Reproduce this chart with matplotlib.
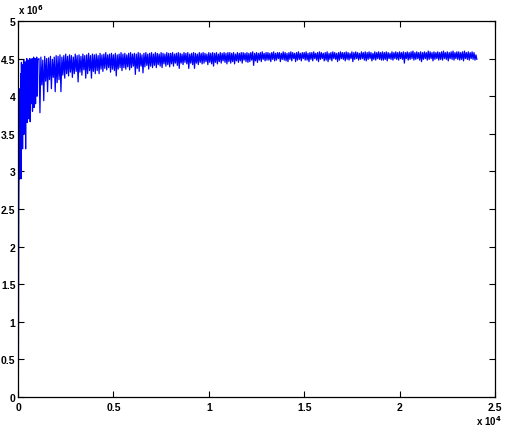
#!/usr/bin/env python3
"""Recreate the MATLAB-style convergence trace (blue) with black reference step."""
import matplotlib
matplotlib.use("Agg")
import matplotlib.pyplot as plt
from matplotlib.ticker import FuncFormatter, MultipleLocator
import numpy as np

# --- data (y in units of 1e6) ---
# first 1000 iterations: sampled every 20
early_step = 20
early_y = [
    0.08, 0.30, 2.46, 3.35, 2.90, 4.10, 3.20, 4.30, 2.90, 4.45,
    3.60, 4.40, 3.30, 4.42, 3.70, 4.48, 3.50, 4.45, 3.90, 4.35,
    3.30, 4.46, 3.80, 4.50, 3.65, 4.42, 3.90, 4.48, 3.70, 4.46,
    4.00, 4.50, 3.66, 4.44, 3.90, 4.47, 4.05, 4.50, 3.80, 4.45,
    4.10, 4.52, 3.85, 4.48, 4.05, 4.50, 3.90, 4.46, 4.10, 4.52,
    4.00, 4.48,
]
# after that: per 100-iteration column, top and bottom of the trace
late_start = 1100
late_step = 100
late_top = [
    4.50, 4.52, 4.48, 4.53, 4.50, 4.51, 4.53, 4.49, 4.52, 4.54,
    4.53, 4.55, 4.52, 4.54, 4.56, 4.53, 4.55, 4.54, 4.52, 4.56,
    4.54, 4.55, 4.53, 4.56, 4.54, 4.55, 4.57, 4.54, 4.56, 4.55,
    4.56, 4.54, 4.57, 4.55, 4.56, 4.58, 4.55, 4.56, 4.57, 4.55,
    4.57, 4.55, 4.56, 4.58, 4.56, 4.57, 4.55, 4.57, 4.58, 4.56,
    4.57, 4.56, 4.58, 4.57, 4.55, 4.57, 4.58, 4.56, 4.57, 4.58,
    4.56, 4.58, 4.57, 4.56, 4.58, 4.57, 4.56, 4.58, 4.57, 4.57,
    4.58, 4.56, 4.57, 4.58, 4.57, 4.56, 4.58, 4.57, 4.58, 4.56,
    4.57, 4.58, 4.57, 4.56, 4.58, 4.57, 4.58, 4.57, 4.56, 4.58,
    4.57, 4.58, 4.57, 4.58, 4.56, 4.58, 4.57, 4.58, 4.57, 4.58,
    4.58, 4.57, 4.58, 4.56, 4.58, 4.57, 4.58, 4.58, 4.57, 4.58,
    4.57, 4.58, 4.59, 4.57, 4.58, 4.57, 4.58, 4.59, 4.57, 4.58,
    4.58, 4.57, 4.58, 4.59, 4.57, 4.58, 4.58, 4.57, 4.59, 4.58,
    4.57, 4.58, 4.59, 4.58, 4.57, 4.58, 4.59, 4.57, 4.58, 4.58,
    4.59, 4.57, 4.58, 4.58, 4.59, 4.57, 4.58, 4.59, 4.58, 4.57,
    4.58, 4.59, 4.57, 4.58, 4.59, 4.58, 4.57, 4.58, 4.59, 4.58,
    4.58, 4.59, 4.58, 4.57, 4.59, 4.58, 4.59, 4.58, 4.57, 4.59,
    4.58, 4.59, 4.58, 4.59, 4.58, 4.57, 4.59, 4.58, 4.59, 4.58,
    4.59, 4.58, 4.59, 4.58, 4.57, 4.59, 4.58, 4.59, 4.58, 4.59,
    4.58, 4.59, 4.58, 4.59, 4.58, 4.59, 4.60, 4.58, 4.59, 4.58,
    4.59, 4.58, 4.59, 4.58, 4.60, 4.59, 4.58, 4.59, 4.58, 4.59,
    4.58, 4.59, 4.60, 4.58, 4.59, 4.58, 4.59, 4.60, 4.58, 4.59,
    4.59, 4.58, 4.59, 4.60, 4.58, 4.59, 4.58, 4.59, 4.58, 4.55,
]
late_low = [
    3.78, 4.15, 3.94, 4.20, 4.06, 4.22, 4.10, 4.25, 4.06, 4.18,
    4.22, 4.06, 4.28, 4.24, 4.30, 4.27, 4.32, 4.25, 4.30, 4.33,
    4.19, 4.32, 4.28, 4.35, 4.24, 4.30, 4.34, 4.24, 4.33, 4.30,
    4.34, 4.30, 4.36, 4.33, 4.37, 4.35, 4.38, 4.32, 4.36, 4.34,
    4.27, 4.36, 4.38, 4.34, 4.38, 4.36, 4.39, 4.35, 4.38, 4.40,
    4.29, 4.37, 4.33, 4.40, 4.31, 4.39, 4.41, 4.36, 4.40, 4.38,
    4.41, 4.38, 4.42, 4.40, 4.38, 4.43, 4.40, 4.42, 4.39, 4.43,
    4.40, 4.44, 4.41, 4.37, 4.44, 4.42, 4.45, 4.43, 4.37, 4.44,
    4.42, 4.37, 4.44, 4.42, 4.45, 4.43, 4.44, 4.46, 4.42, 4.45,
    4.43, 4.40, 4.45, 4.43, 4.46, 4.44, 4.47, 4.45, 4.43, 4.46,
    4.44, 4.46, 4.43, 4.47, 4.45, 4.47, 4.44, 4.48, 4.46, 4.45,
    4.46, 4.48, 4.41, 4.47, 4.45, 4.48, 4.46, 4.49, 4.47, 4.48,
    4.48, 4.46, 4.49, 4.47, 4.48, 4.50, 4.46, 4.49, 4.48, 4.47,
    4.46, 4.49, 4.47, 4.50, 4.46, 4.48, 4.49, 4.47, 4.50, 4.48,
    4.48, 4.46, 4.49, 4.47, 4.50, 4.48, 4.46, 4.49, 4.50, 4.47,
    4.48, 4.46, 4.49, 4.47, 4.50, 4.49, 4.46, 4.48, 4.50, 4.49,
    4.47, 4.49, 4.48, 4.50, 4.46, 4.49, 4.50, 4.48, 4.49, 4.50,
    4.48, 4.47, 4.49, 4.50, 4.47, 4.49, 4.48, 4.50, 4.49, 4.48,
    4.48, 4.49, 4.47, 4.50, 4.49, 4.48, 4.50, 4.49, 4.48, 4.50,
    4.49, 4.44, 4.50, 4.48, 4.49, 4.50, 4.48, 4.49, 4.50, 4.48,
    4.46, 4.49, 4.50, 4.48, 4.49, 4.50, 4.47, 4.49, 4.50, 4.48,
    4.49, 4.48, 4.50, 4.49, 4.47, 4.50, 4.49, 4.48, 4.50, 4.49,
    4.48, 4.49, 4.47, 4.50, 4.49, 4.48, 4.50, 4.49, 4.48, 4.49,
]
ref_x = [0, 260, 260]
ref_y = [4.5, 4.5, 4.3]

# build the trace: early samples, then top/bottom of each column in turn
x_early = np.arange(len(early_y)) * early_step
x_cols = late_start + np.arange(len(late_top)) * late_step
x_late = np.column_stack([x_cols, x_cols + late_step / 2]).ravel()
y_late = np.column_stack([late_top, late_low]).ravel()
x = np.concatenate([x_early, x_late])
y = np.concatenate([early_y, y_late]) * 1e6

plt.rcParams["font.family"] = ["Liberation Sans", "DejaVu Sans"]

fig = plt.figure(figsize=(5.06, 4.31), dpi=100)
ax = fig.add_axes([18 / 506, 33 / 431, 477 / 506, 376 / 431])

ax.plot(ref_x, np.array(ref_y) * 1e6, color="k", lw=0.8)
ax.plot(x, y, color=(0, 0, 1), lw=0.9)

ax.set_xlim(0, 2.5e4)
ax.set_ylim(0, 5e6)
ax.xaxis.set_major_locator(MultipleLocator(5e3))
ax.yaxis.set_major_locator(MultipleLocator(5e5))
ax.xaxis.set_major_formatter(FuncFormatter(lambda v, p: f"{v / 1e4:g}"))
ax.yaxis.set_major_formatter(FuncFormatter(lambda v, p: f"{v / 1e6:g}"))
ax.tick_params(direction="in", length=4, width=0.8, top=True, right=True,
               labelsize=7.5)
ax.tick_params(axis="x", pad=3.5)
ax.tick_params(axis="y", pad=1.8)
for lab in ax.get_xticklabels() + ax.get_yticklabels():
    lab.set_fontweight("bold")
for s in ax.spines.values():
    s.set_linewidth(0.9)

fig.text(18 / 506, (431 - 17) / 431, r"x 10$^{\mathbf{6}}$",
         fontsize=7, fontweight="bold", ha="left", va="bottom")
fig.text(476 / 506, (431 - 428) / 431, r"x 10$^{\mathbf{4}}$",
         fontsize=7, fontweight="bold", ha="left", va="bottom")

fig.savefig("out.png", dpi=100)
